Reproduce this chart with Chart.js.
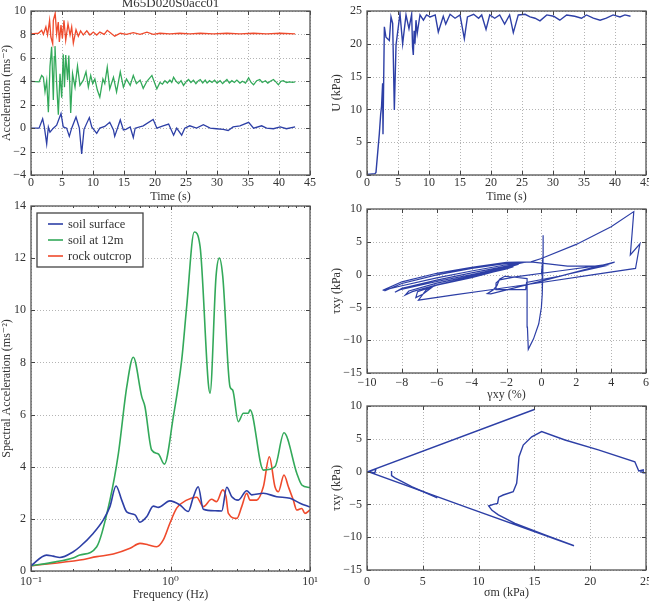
<!DOCTYPE html>
<html><head><meta charset="utf-8">
<script src="https://cdn.jsdelivr.net/npm/chart.js@4.4.1/dist/chart.umd.min.js"></script>
<style>
html,body{margin:0;padding:0;background:#fff;width:649px;height:602px;overflow:hidden;}
canvas{position:absolute;}
</style></head><body>
<canvas id="c1" width="330" height="204" style="left:0;top:0"></canvas>
<canvas id="c2" width="319" height="204" style="left:330px;top:0"></canvas>
<canvas id="c3" width="330" height="412" style="left:0;top:190px"></canvas>
<canvas id="c4" width="319" height="212" style="left:330px;top:190px"></canvas>
<canvas id="c5" width="319" height="210" style="left:330px;top:390px"></canvas>
<script>
// ---------- DATA ----------
const title1 = 'M65D020S0acc01';
// Acceleration time histories (s, m/s^2)
const blueT = [0,1.3,1.88,2.15,2.53,2.8,3.06,3.6,4.14,4.84,5.2,5.75,6.18,6.56,7.26,7.8,8.17,8.55,9.41,9.8,10.6,11.1,11.9,12.7,13.3,13.5,14.4,14.9,15.3,16.0,16.5,16.8,18.1,19.7,20.3,21.3,22.2,23.0,23.5,24.3,24.8,25.6,26.7,27.8,28.9,29.9,31.0,31.8,32.6,33.7,35.1,35.9,37.2,38.0,39.1,40.2,41.2,42.6];
const blueA = [0,0,0.8,0.1,-1.35,0.1,-0.35,0,0.25,1.25,0.1,0,-0.7,0,0.95,0,-2.2,-0.1,0.9,0.1,-0.45,0,0.15,0.5,-0.15,-0.7,0.7,-0.15,-0.1,0.1,-0.8,0,0.2,0.75,0,0.2,0.35,-0.6,0,-0.6,0,0.2,0,0.3,0,-0.05,-0.1,-0.2,0.1,0.2,0.5,0,0.2,0,-0.05,0.1,-0.05,0.1];
const greenT = [0,1.3,1.72,2.0,2.26,2.53,2.8,3.06,3.33,3.6,3.76,3.87,4.14,4.41,4.68,4.95,5.2,5.4,5.6,5.9,6.1,6.4,6.7,7.1,7.5,7.9,8.44,8.87,9.25,9.63,9.95,10.3,10.7,11.1,11.6,11.9,12.3,12.7,13.3,13.8,14.4,14.9,15.4,16.0,16.5,17.0,17.6,18.1,18.7,19.5,20.3,20.8,21.2,21.6,22.0,22.4,22.7,23.0,23.4,23.8,24.2,24.6,25.0,25.4,25.8,26.2,26.6,27.0,27.3,27.7,28.1,28.4,28.8,29.2,29.6,30.0,30.5,30.9,31.3,31.6,32.0,32.4,32.8,33.2,33.7,34.1,34.6,35.1,35.5,35.9,36.4,36.9,37.3,37.8,38.2,38.6,39.1,39.5,39.9,40.3,40.7,41.2,41.7,42.2,42.6];
const greenA = [4.0,3.95,4.5,4.35,3.1,4.05,1.35,5.25,6.95,2.4,6.1,7.0,3.8,1.15,4.65,2.6,6.3,3.5,6.25,4.1,6.2,1.3,4.65,3.5,5.3,3.65,4.1,4.8,3.5,4.5,3.8,4.2,3.25,2.65,4.2,3.8,5.2,3.35,4.35,3.1,4.8,3.5,4.2,3.65,4.5,3.8,4.1,3.4,4.0,4.5,3.35,3.9,3.75,4.05,3.85,4.1,3.9,4.35,4.0,3.8,4.05,3.65,3.95,4.15,3.9,4.1,3.8,4.05,4.15,3.85,4.1,3.85,4.05,3.9,4.1,3.85,4.05,3.8,4.0,4.15,3.85,4.05,3.9,4.1,3.85,4.0,3.85,4.3,3.9,3.7,4.05,4.15,3.9,4.05,3.85,4.0,4.15,3.95,3.7,4.0,4.05,3.9,3.95,3.9,3.95];
const redT = [0,1.2,1.72,2.0,2.4,2.67,3.0,3.2,3.5,3.6,3.9,4.14,4.4,4.57,4.84,5.06,5.32,5.6,5.97,6.3,6.56,6.83,7.26,7.63,8.0,8.44,9.0,9.5,10.05,10.6,11.1,11.8,12.3,13.0,13.5,14.4,15.4,16.5,17.6,18.7,19.7,20.8,22.4,24.0,25.6,27.3,29.4,31.6,33.7,35.9,38.0,40.2,42.6];
const redA = [8.05,8.1,8.35,8.0,8.65,7.95,9.2,7.8,7.2,9.2,9.8,8.05,9.05,7.35,8.8,7.65,9.2,7.5,8.9,7.95,8.65,7.25,8.4,7.85,8.3,7.95,8.3,7.95,8.2,7.95,8.2,8.0,8.35,8.05,7.85,8.1,8.0,8.15,8.0,8.2,8.0,8.1,8.05,8.1,8.05,8.1,8.05,8.1,8.05,8.1,8.05,8.1,8.05];
// Excess pore pressure U (s, kPa)
const uT = [0,1.29,1.45,1.99,2.2,2.35,2.52,2.58,2.8,3.06,3.6,3.87,4.14,4.41,4.68,5.32,5.75,6.29,6.77,7.2,7.35,7.47,7.6,7.74,7.9,8.1,8.55,9.1,9.6,10.2,11.0,11.5,12.3,12.7,13.4,14.2,15.0,15.7,16.2,17.2,18.0,18.5,19.2,19.8,20.6,21.4,22.2,23.0,23.6,24.4,25.5,26.3,27.1,27.9,29.0,30.1,31.1,32.2,33.5,34.6,35.4,36.5,37.6,38.6,39.7,40.8,41.6,42.5];
const uV = [0.1,0.2,0.4,6.3,9.2,10.5,14.0,6.2,22.6,21.0,20.5,24.1,23.1,9.9,19.8,24.6,20.0,24.4,22.3,24.5,19.5,18.3,22.0,20.0,23.6,21.6,24.4,23.6,24.4,24.1,24.4,21.8,24.2,23.0,24.5,23.9,24.4,20.8,24.1,24.5,23.9,24.4,22.2,24.4,23.9,24.4,23.0,24.4,21.7,24.4,24.5,24.1,23.9,23.5,24.4,24.2,23.6,24.4,24.2,23.9,24.4,23.9,23.6,23.9,24.4,24.1,24.4,24.2];
// Response spectra (Hz, m/s^2)
const seriesNames = ['soil surface','soil at 12m','rock outcrop'];
const surfF = [0.1,0.129,0.144,0.161,0.201,0.224,0.28,0.33,0.368,0.407,0.447,0.485,0.557,0.604,0.675,0.753,0.818,0.99,1.17,1.34,1.46,1.58,1.72,2.09,2.33,2.53,2.75,3.06,3.52,3.82,4.63,5.77,7.19,8.48,10];
const surfS = [0.2,0.61,0.57,0.52,0.74,0.93,1.45,1.96,2.47,3.26,2.72,2.27,2.15,1.87,2.08,2.49,2.44,2.69,2.53,2.28,2.85,3.23,2.37,2.31,2.3,3.21,2.85,2.72,3.08,2.92,2.98,2.85,2.79,2.6,2.45];
const soilF = [0.1,0.15,0.2,0.224,0.296,0.368,0.423,0.486,0.541,0.622,0.656,0.733,0.818,0.904,1.048,1.203,1.306,1.48,1.63,1.866,1.92,2.12,2.24,2.37,2.67,2.79,3.06,3.33,3.61,3.72,4.63,5.61,6.51,8.04,8.73,10];
const soilS = [0.2,0.35,0.5,0.61,0.93,2.72,4.5,7.07,8.2,6.69,6.3,4.64,4.49,4.1,5.92,8.09,10.14,13.0,12.44,7.2,6.82,11.29,12.0,11.29,7.07,6.94,5.73,6.05,6.05,6.18,3.87,4.0,5.3,3.75,3.3,3.2];
const rockF = [0.1,0.224,0.296,0.389,0.513,0.604,0.694,0.796,0.888,0.99,1.107,1.306,1.54,1.72,1.97,2.14,2.37,2.5,2.6,2.99,3.24,3.52,3.72,4.15,4.63,5.11,5.61,5.93,6.51,7.0,7.59,8.04,8.73,9.2,10];
const rockS = [0.2,0.42,0.55,0.65,0.87,1.06,1.0,0.93,1.19,1.83,2.41,2.72,2.83,2.47,2.75,2.66,3.11,2.85,2.21,2.02,2.47,2.98,2.72,2.72,3.23,4.38,3.23,3.04,3.68,3.23,2.72,2.34,2.4,2.21,2.34];
const logTicks = [0.1,1,10];
const logLabels = ['10\u207B\u00B9','10\u2070','10\u00B9'];
// Shear stress - shear strain (%, kPa)
const hystPath = [[0,0],[0.1,3],[0.1,6.0],[0.1,3],[0.08,0],[0.05,-3],[0,-5],[-0.15,-7.5],[-0.45,-9.8],[-0.75,-11.4],[-0.8,-8],[-0.82,-4],[-0.82,-0.6],
[-1.5,-0.4],[-2.1,-0.25],[-2.4,-0.7],[-2.55,-1.7],[-2.75,-2.3],[-3.1,-2.9],[-2.9,-2.95],[0,-1.0],[2.5,0.75],[4.2,1.9],
[3.8,1.55],[1,0.55],[-1.5,-0.35],[-2.4,-0.8],[-2.6,-1.3],[-2.6,-2.3],[-0.9,-2.3],[-0.85,-1.2],[1,-0.25],[3.6,1.3],
[1.5,1.3],[-0.6,1.95],
[-2,1.85],[-4,1.1],[-6,0.2],[-8,-1.1],[-9.1,-2.4],
[-8,-1.7],[-6,-0.5],[-4,0.55],[-2,1.5],[-1.0,1.85],
[-2,1.3],[-4,0.25],[-6,-0.85],[-8,-2.1],[-8.4,-2.7],[-8.1,-2.3],
[-6,-1.05],[-4,0.0],[-2,1.15],[-1.3,1.6],
[-2,1.0],[-4,-0.2],[-6,-1.3],[-7.6,-2.5],[-7.8,-3.1],[-7.4,-2.6],
[-6,-1.55],[-4,-0.35],[-2,0.85],[-1.6,1.2],
[-4,-0.45],[-6,-1.6],[-7.1,-2.6],[-7.2,-3.5],[-6.8,-3.0],[-6.1,-1.6],[-6.6,-2.3],[-7.05,-3.9],
[-5,-3.1],[-3,-2.35],[0,-1.2],[3,0.0],[5.4,0.95],[5.65,4.7],[5.1,3.0],[5.2,6.2],[5.3,9.6],[4,7.3],[2,4.6],[0,2.45],[-0.6,1.95],[-2,1.7],[-4,0.95],[-6,-0.05],[-8,-1.35],[-9.0,-2.5]];
// Stress path (kPa, kPa)
const stressPath = [[24.5,0],[24.8,-0.2],[24.75,0.25],[24.35,0.1],[24.0,1.5],[20.73,3.3],[17.74,4.82],[15.65,6.1],[14.76,5.3],[14.0,4.05],[13.62,2.27],[13.5,-0.26],[13.41,-1.78],[13.1,-3.06],[12.2,-3.57],[11.8,-3.9],[11.7,-4.84],[11.32,-5.0],[10.9,-5.24],[11.2,-5.9],[11.77,-6.6],[13.26,-7.9],[15.95,-9.66],[18.55,-11.3],[9,-5.5],[0.1,0],[15.05,9.5],[0.1,0],[0.8,0.4],[0.7,-0.2],[0.15,0]];
const stressPath2 = [[2.2,0.1],[2.2,-0.6],[2.5,-0.95],[4.0,-2.3],[6.3,-4.0]];

// ---------- STYLE ----------
const FONT = "'Liberation Serif','DejaVu Serif',serif";
Chart.defaults.font.family = FONT;
Chart.defaults.font.size = 12;
Chart.defaults.color = '#333';
const BLUE = '#2d3fa6', GREEN = '#33a95a', RED = '#ef4a2c';

function fmt(v){ return v < 0 ? '\u2212' + Math.abs(v) : String(v); }
function pts(xs, ys){ return xs.map((x,i)=>({x:x, y:ys[i]})); }
function pairs(p){ return p.map(q=>({x:q[0], y:q[1]})); }
function ds(label, data, color, extra){
  return Object.assign({label, data, showLine:true, borderColor:color, backgroundColor:color,
    borderWidth:1.4, pointRadius:0, pointHoverRadius:0, fill:false, tension:0}, extra||{});
}
function axisFit(size){
  return s => { if (s.isHorizontal()) s.height = size; else s.width = size;
    s.paddingLeft = 0; s.paddingRight = 0; s.paddingTop = 0; s.paddingBottom = 0; };
}
function linAxis(min, max, step, size, pad, title){
  return { type:'linear', min, max,
    ticks:{stepSize:step, padding:pad, autoSkip:false, maxRotation:0, callback:v=>fmt(v), color:'#333'},
    grid:{display:false, drawTicks:false}, border:{display:false},
    title:{display:true, text:title, color:'#333', padding:0, font:{size:12}},
    afterFit: axisFit(size) };
}

const framePlugin = {
  id:'frame',
  beforeDatasetsDraw(chart){
    const {ctx, chartArea:a, scales:{x,y}} = chart;
    ctx.save(); ctx.strokeStyle = '#b4b4b4'; ctx.lineWidth = 1; ctx.setLineDash([1,2]);
    ctx.beginPath();
    x.ticks.forEach(t=>{ const p = Math.round(x.getPixelForValue(t.value)) + 0.5; ctx.moveTo(p, a.top); ctx.lineTo(p, a.bottom); });
    y.ticks.forEach(t=>{ const p = Math.round(y.getPixelForValue(t.value)) + 0.5; ctx.moveTo(a.left, p); ctx.lineTo(a.right, p); });
    ctx.stroke(); ctx.restore();
  },
  afterDatasetsDraw(chart){
    const {ctx, chartArea:a, scales:{x,y}} = chart;
    ctx.save(); ctx.strokeStyle = '#444'; ctx.lineWidth = 1; ctx.beginPath();
    const tx = (v, L) => { const p = Math.round(x.getPixelForValue(v)) + 0.5; ctx.moveTo(p, a.bottom); ctx.lineTo(p, a.bottom - L); ctx.moveTo(p, a.top); ctx.lineTo(p, a.top + L); };
    x.ticks.forEach(t=>tx(t.value, 4));
    if (x.type === 'logarithmic') { [0.1,1].forEach(d=>{ for (let k=2;k<10;k++) tx(d*k, 2); }); }
    y.ticks.forEach(t=>{ const p = Math.round(y.getPixelForValue(t.value)) + 0.5; ctx.moveTo(a.left, p); ctx.lineTo(a.left + 4, p); ctx.moveTo(a.right, p); ctx.lineTo(a.right - 4, p); });
    ctx.stroke();
    ctx.strokeStyle = '#555'; ctx.lineWidth = 1.3;
    ctx.strokeRect(a.left, a.top, a.right - a.left, a.bottom - a.top);
    ctx.restore();
  }
};
const titlePlugin = {
  id:'ptitle',
  afterDraw(chart, args, opts){
    if (!opts.text) return;
    const {ctx, chartArea:a} = chart;
    ctx.save(); ctx.font = '13px ' + FONT; ctx.fillStyle = '#333'; ctx.textAlign = 'center'; ctx.textBaseline = 'alphabetic';
    ctx.fillText(opts.text, (a.left + a.right)/2, opts.y); ctx.restore();
  }
};
const boxLegend = {
  id:'boxLegend',
  afterDraw(chart, args, opts){
    if (!opts.show) return;
    const {ctx, chartArea:a} = chart;
    const x0 = a.left + 6, y0 = a.top + 7, w = 106, h = 54;
    ctx.save(); ctx.fillStyle = '#fff'; ctx.fillRect(x0, y0, w, h);
    ctx.strokeStyle = '#444'; ctx.lineWidth = 1.3; ctx.strokeRect(x0, y0, w, h);
    ctx.font = '12.5px ' + FONT; ctx.textBaseline = 'middle'; ctx.textAlign = 'left';
    chart.data.datasets.forEach((d,i)=>{
      const yy = y0 + 11 + i*16;
      ctx.strokeStyle = d.borderColor; ctx.lineWidth = 1.6; ctx.beginPath(); ctx.moveTo(x0 + 11, yy); ctx.lineTo(x0 + 26, yy); ctx.stroke();
      ctx.fillStyle = '#333'; ctx.fillText(d.label, x0 + 31, yy + 0.5);
    });
    ctx.restore();
  }
};

function make(id, datasets, scales, padding, pluginOpts){
  return new Chart(document.getElementById(id), {
    type:'scatter',
    data:{datasets},
    options:{ responsive:false, animation:false, devicePixelRatio:1,
      layout:{padding},
      plugins:Object.assign({legend:{display:false}, tooltip:{enabled:false}}, pluginOpts||{}),
      scales },
    plugins:[framePlugin, titlePlugin, boxLegend]
  });
}

// Panel 1: acceleration histories
make('c1', [
  ds('soil surface', pts(blueT, blueA), BLUE, {borderWidth:1.3}),
  ds('soil at 12m', pts(greenT, greenA), GREEN, {borderWidth:1.3}),
  ds('rock outcrop', pts(redT, redA), RED, {borderWidth:1.3})
], {
  x: linAxis(0, 45, 5, 29, 1, 'Time (s)'),
  y: linAxis(-4, 10, 2, 31, 5, 'Acceleration (ms\u207B\u00B2)')
}, {top:11, right:20, left:0, bottom:0}, {ptitle:{text:title1, y:7}});

// Panel 2: pore pressure
make('c2', [ ds('U', pts(uT, uV), BLUE) ], {
  x: linAxis(0, 45, 5, 29, 1, 'Time (s)'),
  y: linAxis(0, 25, 5, 37, 5, 'U (kPa)')
}, {top:11, right:3, left:0, bottom:0});

// Panel 3: response spectra
make('c3', [
  ds(seriesNames[0], pts(surfF, surfS), BLUE, {cubicInterpolationMode:'monotone', borderWidth:1.6}),
  ds(seriesNames[1], pts(soilF, soilS), GREEN, {cubicInterpolationMode:'monotone', borderWidth:1.6}),
  ds(seriesNames[2], pts(rockF, rockS), RED, {cubicInterpolationMode:'monotone', borderWidth:1.6})
], {
  x: { type:'logarithmic', min:0.1, max:10,
       afterBuildTicks: s => { s.ticks = logTicks.map(v=>({value:v})); },
       ticks:{padding:4, autoSkip:false, maxRotation:0, callback:(v,i)=>logLabels[i], color:'#333'},
       grid:{display:false, drawTicks:false}, border:{display:false},
       title:{display:true, text:'Frequency (Hz)', color:'#333', padding:0, font:{size:12}},
       afterFit: axisFit(31) },
  y: linAxis(0, 14, 2, 31, 5, 'Spectral Acceleration (ms\u207B\u00B2)')
}, {top:16, right:20, left:0, bottom:0}, {boxLegend:{show:true}});

// Panel 4: hysteresis
make('c4', [ ds('tau-gamma', pairs(hystPath), BLUE, {borderWidth:1.2}) ], {
  x: linAxis(-10, 6, 2, 29, 3, '\u03B3xy (%)'),
  y: linAxis(-15, 10, 5, 37, 5, '\u03C4xy (kPa)')
}, {top:19, right:3, left:0, bottom:0});

// Panel 5: stress path
make('c5', [
  ds('path', pairs(stressPath), BLUE, {borderWidth:1.4}),
  ds('path2', pairs(stressPath2), BLUE, {borderWidth:1.4})
], {
  x: linAxis(0, 25, 5, 30, 5, '\u03C3m (kPa)'),
  y: linAxis(-15, 10, 5, 37, 5, '\u03C4xy (kPa)')
}, {top:16, right:3, left:0, bottom:0});
</script>
</body></html>
